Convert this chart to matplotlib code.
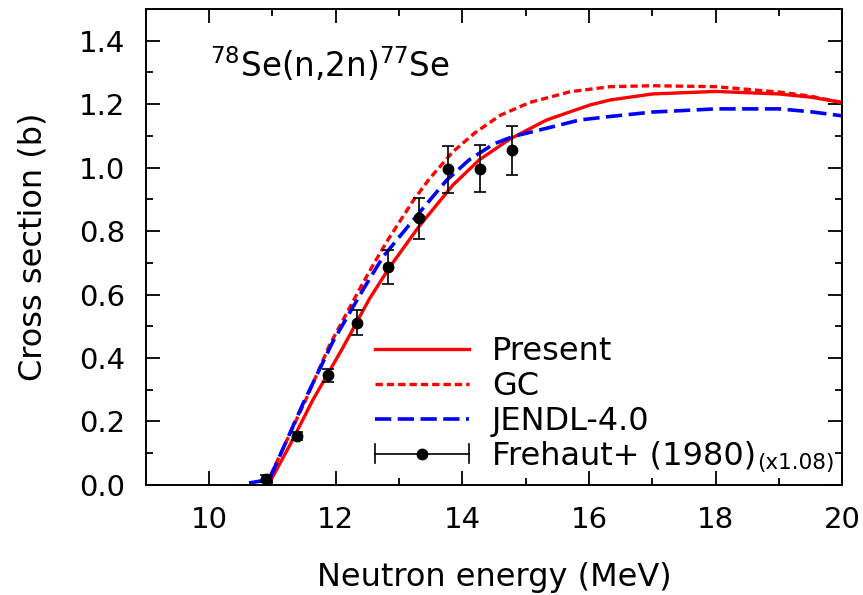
import matplotlib.pyplot as plt
from matplotlib.lines import Line2D
from matplotlib.legend_handler import HandlerBase
from matplotlib.ticker import MultipleLocator

# Present (solid red)
e_present = [10.9, 10.98, 11.3, 11.63, 12.11, 12.53, 12.85, 13.32, 13.85, 14.27, 14.75, 15.33,
             16.01, 16.33, 17.0, 18.0, 19.0, 19.5, 20.0]
xs_present = [0.0, 0.017, 0.135, 0.265, 0.432, 0.586, 0.686, 0.816, 0.945, 1.025, 1.09, 1.15,
              1.197, 1.213, 1.232, 1.24, 1.232, 1.222, 1.205]

# GC (dashed red)
e_gc = [10.9, 10.95, 11.53, 11.9, 12.37, 12.58, 12.8, 13.22, 13.48, 13.85, 14.2, 14.6, 15.06,
        15.7, 16.33, 17.0, 18.0, 19.0, 19.5, 20.0]
xs_gc = [0.0, 0.022, 0.27, 0.44, 0.615, 0.69, 0.765, 0.895, 0.965, 1.05, 1.11, 1.165, 1.205,
         1.239, 1.255, 1.258, 1.255, 1.238, 1.225, 1.205]

# JENDL-4.0 (long dashed blue)
e_jendl = [10.63, 10.95, 11.48, 11.95, 12.43, 12.75, 13.32, 13.75, 14.11, 14.5, 14.8, 15.33,
           15.85, 16.33, 17.0, 18.0, 19.0, 19.5, 20.0]
xs_jendl = [0.006, 0.017, 0.255, 0.45, 0.615, 0.72, 0.858, 0.96, 1.025, 1.075, 1.098, 1.124,
            1.15, 1.161, 1.175, 1.185, 1.185, 1.176, 1.163]

# Frehaut+ (1980), scaled x1.08
e_exp = [10.9, 11.39, 11.87, 12.34, 12.83, 13.31, 13.78, 14.27, 14.78]
xs_exp = [0.02, 0.154, 0.345, 0.511, 0.687, 0.840, 0.994, 0.996, 1.054]
dxs_exp = [0.01, 0.012, 0.02, 0.04, 0.054, 0.065, 0.075, 0.074, 0.076]


class HandlerHErr(HandlerBase):
    # horizontal bar with caps and a dot in the middle
    def create_artists(self, legend, orig_handle, xdescent, ydescent,
                       width, height, fontsize, trans):
        y = height / 2.0 - ydescent
        x0, x1 = -xdescent, -xdescent + width
        cap = 0.3 * fontsize
        bar = Line2D([x0, x1], [y, y], color='black', lw=1.2)
        c0 = Line2D([x0, x0], [y - cap, y + cap], color='black', lw=1.2)
        c1 = Line2D([x1, x1], [y - cap, y + cap], color='black', lw=1.2)
        dot = Line2D([(x0 + x1) / 2], [y], marker='o', color='black', ms=7.5)
        arts = [bar, c0, c1, dot]
        for a in arts:
            a.set_transform(trans)
        return arts


plt.rcParams['font.family'] = ['DejaVu Sans']
plt.rcParams['mathtext.fontset'] = 'dejavusans'
FS = 23

fig = plt.figure(figsize=(8.63, 5.95), dpi=100)
ax = fig.add_axes([0.169, 0.185, 0.807, 0.8])

l1, = ax.plot(e_present, xs_present, color='red', lw=2.4, ls='-')
l2, = ax.plot(e_gc, xs_gc, color='red', lw=2.4, ls=(0, (2.2, 1.2)))
l3, = ax.plot(e_jendl, xs_jendl, color='blue', lw=2.6, ls=(0, (4.5, 1.8)))
ax.errorbar(e_exp, xs_exp, yerr=dxs_exp, fmt='o', color='black', ms=7.5,
            ecolor='black', elinewidth=1.2, capsize=4, capthick=1.2, zorder=5)
proxy = Line2D([], [], color='black')

ax.set_xlim(9, 20)
ax.set_ylim(0, 1.5)
ax.xaxis.set_major_locator(MultipleLocator(2))
ax.xaxis.set_minor_locator(MultipleLocator(1))
ax.yaxis.set_minor_locator(MultipleLocator(0.1))
ax.set_yticks([0.0, 0.2, 0.4, 0.6, 0.8, 1.0, 1.2, 1.4])
ax.tick_params(which='both', direction='in', top=True, right=True, width=1.3, labelsize=21)
ax.tick_params(which='major', length=10, pad=15)
ax.tick_params(which='minor', length=5)
for s in ax.spines.values():
    s.set_linewidth(1.4)

ax.set_xlabel('Neutron energy (MeV)', fontsize=FS, labelpad=20)
ax.set_ylabel('Cross section (b)', fontsize=FS, labelpad=22)

ax.text(0.092, 0.883, r'$^{78}$Se(n,2n)$^{77}$Se', transform=ax.transAxes,
        fontsize=23.5, va='center', ha='left')

leg = ax.legend([l1, l2, l3, proxy],
                ['Present', 'GC', 'JENDL-4.0', 'Frehaut+ (1980)'],
                handler_map={proxy: HandlerHErr()},
                loc='lower left', bbox_to_anchor=(0.288, -0.033), frameon=False,
                fontsize=FS, handlelength=2.95, handletextpad=0.7, labelspacing=0.12)

# small "(x1.08)" note right after the last legend label (drawn after the legend)
ax.annotate('(x1.08)', xy=(1.0, 0.28), xycoords=leg.get_texts()[-1],
            xytext=(1, 0), textcoords='offset points',
            fontsize=15.5, va='center', ha='left', zorder=10)

plt.savefig('out.png', dpi=100)
